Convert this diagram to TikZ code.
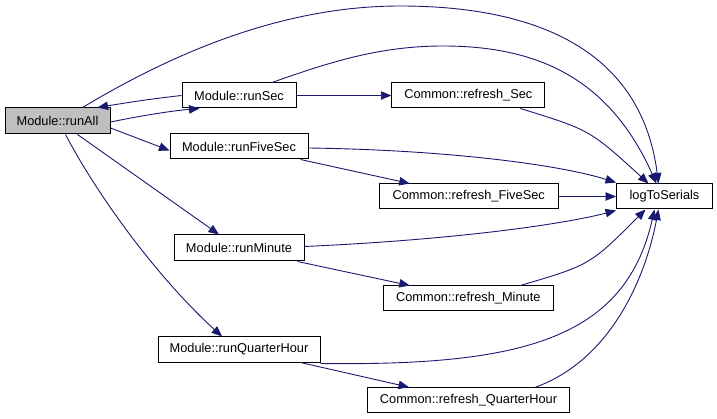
\documentclass[tikz,border=0pt]{standalone}
\usepackage{fontspec}
\setmainfont{Liberation Sans}
\usetikzlibrary{arrows.meta}
\definecolor{edgeblue}{HTML}{191970}
\definecolor{hilite}{HTML}{BFBFBF}
\begin{document}
\begin{tikzpicture}[x=1pt,y=-1pt,
  fn/.style={draw=black,line width=1pt,fill=white,minimum height=25pt,inner sep=0pt,
    font=\fontsize{12.8}{14}\selectfont},
  call/.style={draw=edgeblue,line width=0.9pt,-{Triangle[length=10.5pt,width=8.5pt]}}]
\useasboundingbox (0,0) rectangle (717,419);
\node[fn,fill=hilite,minimum width=105pt,minimum height=26pt] (runAll) at (57.5,121) {Module::runAll};
\node[fn,minimum width=114pt] (runSec) at (239,95.5) {Module::runSec};
\node[fn,minimum width=138pt] (runFive) at (239,146.5) {Module::runFiveSec};
\node[fn,minimum width=130pt,minimum height=26pt] (runMin) at (239,248) {Module::runMinute};
\node[fn,minimum width=162pt] (runQH) at (239,349.5) {Module::runQuarterHour};
\node[fn,minimum width=153pt] (refSec) at (468.3,95.5) {Common::refresh\_Sec};
\node[fn,minimum width=179pt] (refFive) at (468.7,196.5) {Common::refresh\_FiveSec};
\node[fn,minimum width=96pt] (log) at (664.5,196.5) {logToSerials};
\node[fn,minimum width=170pt] (refMin) at (468.3,298.5) {Common::refresh\_Minute};
\node[fn,minimum width=202pt] (refQH) at (468.5,400.2) {Common::refresh\_QuarterHour};

% runAll calls
\draw[call] ([xshift=-28pt]runAll.north east) .. controls (170,55) and (280,6) .. (400,6)
  .. controls (520,6) and (640,40) .. ([xshift=-6pt]log.north);
\draw[call] ([yshift=-1pt]runAll.east) .. controls (140,116) and (170,111) .. ([xshift=18pt]runSec.south west);
\draw[call] (runSec.west) .. controls (150,99) and (125,103) .. ([xshift=-13pt]runAll.north east);
\draw[call] ([yshift=-7pt]runAll.east) -- ([yshift=-4pt]runFive.west);
\draw[call] ([xshift=20pt]runAll.south) -- ([xshift=-20pt]runMin.north);
\draw[call] ([xshift=8pt]runAll.south) .. controls (100,200) and (160,280) .. ([xshift=-17pt]runQH.north);

% runSec
\draw[call] (runSec.east) -- (refSec.west);
\draw[call] ([xshift=33pt]runSec.north) .. controls (330,62) and (380,46) .. (443,46)
  .. controls (540,46) and (610,80) .. ([xshift=-8pt]log.north);

% runFiveSec
\draw[call] ([yshift=-1.5pt]runFive.east) .. controls (450,150) and (560,165) .. ([yshift=1pt]log.north west);
\draw[call] ([xshift=-8pt]runFive.south east) -- ([xshift=31pt]refFive.north west);

% refresh_Sec
\draw[call] ([xshift=52pt]refSec.south) .. controls (590,130) .. ([xshift=-16pt]log.north);

% refresh_FiveSec
\draw[call] (refFive.east) -- (log.west);

% runMinute
\draw[call] ([yshift=1.5pt]runMin.east) .. controls (450,240) and (560,225) .. ([yshift=-1pt]log.south west);
\draw[call] ([xshift=-7pt]runMin.south east) -- ([xshift=27pt]refMin.north west);
\draw[call] ([xshift=52pt]refMin.north) .. controls (590,265) .. ([xshift=-19pt]log.south);

% runQuarterHour
\draw[call] ([yshift=-1pt]runQH.south east) .. controls (520,366) and (625,340) .. ([xshift=-10pt]log.south);
\draw[call] ([xshift=-20pt]runQH.south east) -- ([xshift=42pt]refQH.north west);
\draw[call] ([xshift=67pt]refQH.north) .. controls (610,360) and (645,280) .. ([xshift=-6pt]log.south);
\end{tikzpicture}
\end{document}
